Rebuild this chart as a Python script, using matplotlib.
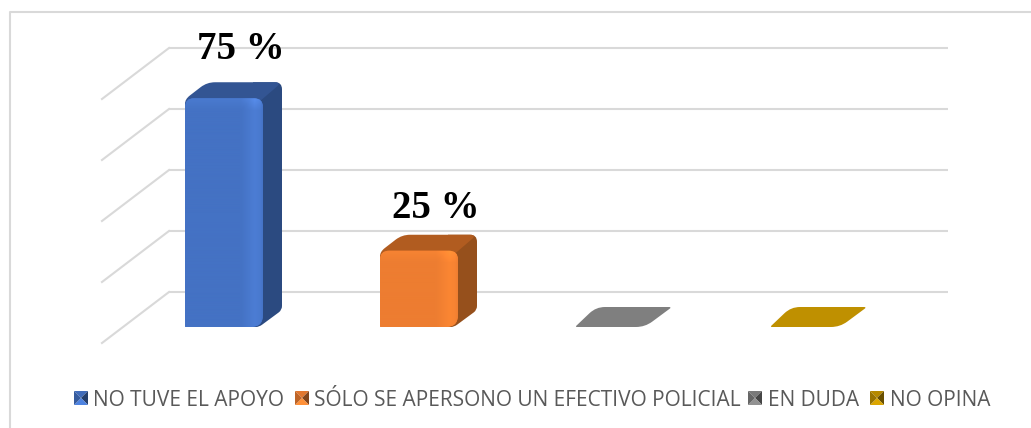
import matplotlib
matplotlib.use('Agg')
import matplotlib.pyplot as plt
from matplotlib.path import Path
from matplotlib.patches import PathPatch, Polygon
from matplotlib.transforms import Affine2D
from matplotlib.colors import to_rgb
import numpy as np

# datos del grafico
categorias = ['NO TUVE EL APOYO', 'SÓLO SE APERSONO UN EFECTIVO POLICIAL', 'EN DUDA', 'NO OPINA']
valores = [75, 25, 0, 0]
etiquetas = ['75 %', '25 %']
rejilla = [0, 20, 40, 60, 80]

# colores: frente, brillo, tapa, lado
frente = ['#4472c4', '#ed7d31', '#7f7f7f', '#bf9000']
brillo = ['#4c7dd4', '#fb8633', '#8a8a8a', '#cc9a00']
tapa = ['#335593', '#b15c20', '#7f7f7f', '#bf9000']
lado = ['#2b4a80', '#96501c', '#5f5f5f', '#8f6c00']

# escala de los ejes, pixeles por unidad
PX_X = 195.0
PX_Y = 61 / 20
FONDO = 35      # el frente de la barra queda por delante de la pared
ANCHO = 39      # media anchura de barra

fig = plt.figure(figsize=(10.31, 4.28), dpi=100, facecolor='white')
ax = fig.add_axes([0, 0, 1, 1])
ax.axis('off')
pix = Affine2D().scale(1, -1).translate(0, 428)  # pixeles con y hacia abajo


def redondeado(puntos, radios, i):
    # puntos en pixeles relativos a la barra i, esquinas redondeadas
    n = len(puntos)
    verts, codes = [], []
    pts = np.array(puntos, dtype=float)
    for k in range(n):
        p, a, b = pts[k], pts[k - 1], pts[(k + 1) % n]
        r1 = min(radios[k], np.linalg.norm(a - p) / 2)
        r2 = min(radios[k], np.linalg.norm(b - p) / 2)
        ini = p + (a - p) / max(np.linalg.norm(a - p), 1e-6) * r1
        fin = p + (b - p) / max(np.linalg.norm(b - p), 1e-6) * r2
        verts += [ini, p, fin]
        codes += [Path.MOVETO if k == 0 else Path.LINETO, Path.CURVE3, Path.CURVE3]
    verts.append(verts[0])
    codes.append(Path.CLOSEPOLY)
    verts = np.array(verts)
    verts[:, 0] = i + verts[:, 0] / PX_X
    verts[:, 1] = (verts[:, 1] - FONDO) / PX_Y
    return Path(verts, codes)


# rejilla: pared del fondo y lateral
for g in rejilla:
    ax.plot([(169 - 224) / PX_X, (948 - 224) / PX_X], [g, g], color='#d9d9d9', lw=1.5, solid_capstyle='butt', zorder=1)
    ax.plot([(102 - 224) / PX_X, (169 - 224) / PX_X], [g - 51 / PX_Y, g], color='#d9d9d9', lw=1.5, zorder=1)

# barras
for i, v in enumerate(valores):
    alto = v * PX_Y
    if v == 0:
        p = redondeado([(-ANCHO, 0), (ANCHO - 8, 0), (ANCHO + 19, 20), (-ANCHO + 21, 20)], [2, 9, 3, 9], i)
        ax.add_patch(PathPatch(p, facecolor=frente[i], edgecolor='none', zorder=3))
        continue
    p = redondeado([(ANCHO - 10, 0), (ANCHO - 4, 0), (ANCHO + 19, 17), (ANCHO + 19, alto + 16),
                    (ANCHO - 10, alto + 16)], [0, 4, 4, 7, 0], i)
    ax.add_patch(PathPatch(p, facecolor=lado[i], edgecolor='none', zorder=3))
    p = redondeado([(-ANCHO, alto - 10), (-ANCHO, alto - 1), (-ANCHO + 22, alto + 16), (ANCHO + 19, alto + 16),
                    (ANCHO - 2, alto - 2), (ANCHO - 2, alto - 10)], [0, 6, 8, 7, 0, 0], i)
    ax.add_patch(PathPatch(p, facecolor=tapa[i], edgecolor='none', zorder=3))
    p = redondeado([(-ANCHO, 0), (-ANCHO, alto), (ANCHO, alto), (ANCHO, 0)], [1, 9, 9, 12], i)
    ax.add_patch(PathPatch(p, facecolor=frente[i], edgecolor='none', zorder=4))
    # degradado suave: banda derecha, banda superior y punto de brillo en la esquina
    c1, c2 = np.array(to_rgb(frente[i])), np.array(to_rgb(brillo[i]))
    tx = np.interp(np.linspace(0, 1, 78), [0, 0.72, 0.9, 0.97, 1], [0, 0, 1, 0.7, 0.2])
    ty = np.interp(np.arange(int(alto)), [0, 3, 12], [1, 0.8, 0])
    t = np.maximum(tx[None, :], ty[:, None] * 0.7) + tx[None, :] * ty[:, None] * 1.5
    img = ax.imshow(np.clip(c1 + (c2 - c1) * t[:, :, None], 0, 1), aspect='auto', zorder=5,
                    extent=[i - ANCHO / PX_X, i + ANCHO / PX_X, -FONDO / PX_Y, v - FONDO / PX_Y])
    img.set_clip_path(PathPatch(p, transform=ax.transData))

# etiquetas de datos
subida = [39, 33]
for i, txt in enumerate(etiquetas):
    ax.annotate(txt, (i, valores[i] - FONDO / PX_Y), xytext=(17, subida[i]), textcoords='offset pixels',
                ha='center', va='baseline', family='Liberation Serif', weight='bold', fontsize=28, color='black', zorder=6)

ax.set_xlim(-224 / PX_X, (1031 - 224) / PX_X)
ax.set_ylim(-136 / PX_Y, 292 / PX_Y)

# marco del grafico, solo arriba e izquierda
fig.add_artist(plt.Line2D([10, 10, 1031], [428, 12, 12], color='#d9d9d9', lw=1.5, transform=pix))

# leyenda
ley_x = [74, 295, 748, 870]
txt_x = [93, 314, 768, 890]
for i, nombre in enumerate(categorias):
    x0, y0, s = ley_x[i], 391, 14
    cx, cy = x0 + s / 2, y0 + s / 2
    caras = [[(x0, y0), (x0 + s, y0), (cx, cy)], [(x0 + s, y0), (x0 + s, y0 + s), (cx, cy)],
             [(x0 + s, y0 + s), (x0, y0 + s), (cx, cy)], [(x0, y0 + s), (x0, y0), (cx, cy)]]
    base = np.array(to_rgb(frente[i]))
    tonos = [base * 0.95, base * 0.55, np.minimum(base * 1.15, 1), base * 0.8]
    for c, col in zip(caras, tonos):
        fig.add_artist(Polygon(c, closed=True, facecolor=col, edgecolor='none', transform=pix))
    fig.text(txt_x[i], 406, nombre, family='Open Sans', fontsize=15, color='#595959', ha='left', va='baseline',
             transform=pix)

fig.savefig('out.png', dpi=100, facecolor='white')
